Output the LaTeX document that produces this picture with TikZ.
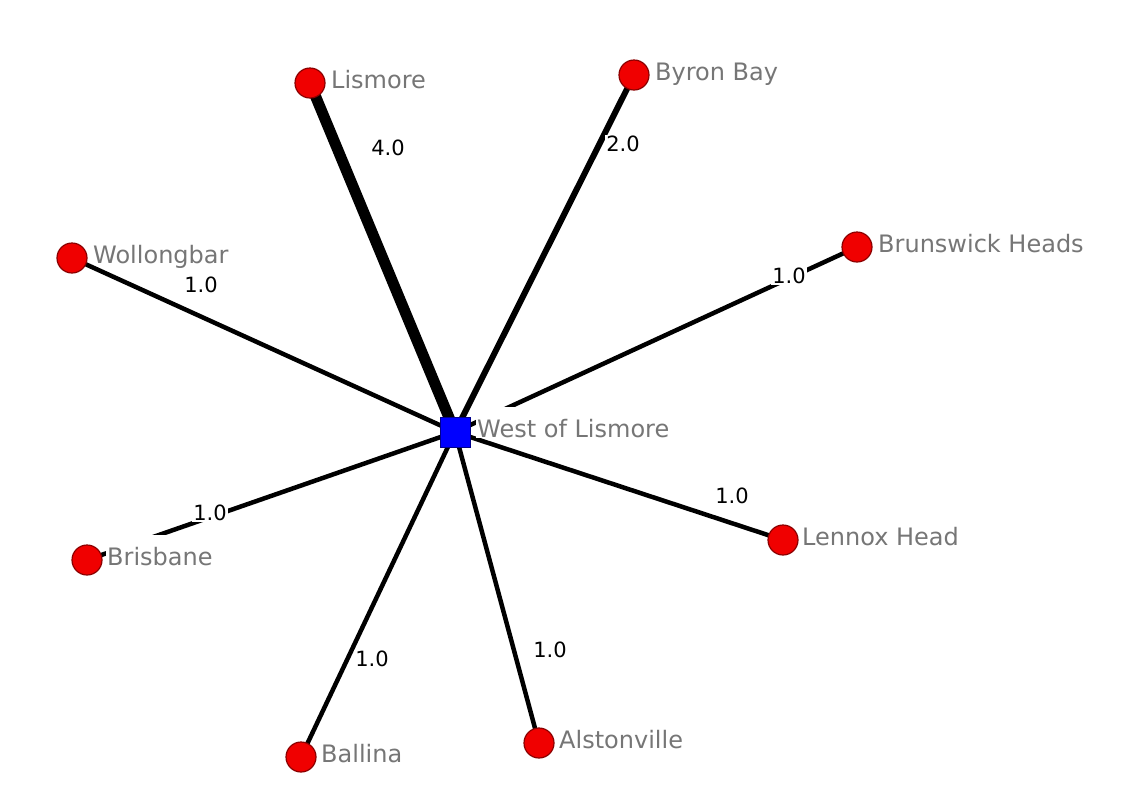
\documentclass[tikz,border=0pt]{standalone}
\usepackage{fontspec}
\setmainfont{DejaVu Sans}
\pgfdeclarelayer{bg}
\pgfsetlayers{bg,main}
\definecolor{nodered}{HTML}{F00000}
\definecolor{noderim}{HTML}{8B0000}
\definecolor{hubblue}{HTML}{0000FF}
\definecolor{hubrim}{HTML}{00008B}
\definecolor{labgray}{HTML}{767676}
\begin{document}
\begin{tikzpicture}[x=1pt,y={(0pt,-1pt)},
  town/.style={circle, fill=nodered, draw=noderim, line width=1.2pt, minimum size=30pt, inner sep=0pt},
  hub/.style={rectangle, fill=hubblue, draw=hubrim, line width=0.8pt, minimum size=30pt, inner sep=0pt},
  townlabel/.style={anchor=base west, fill=white, text=labgray, font=\fontsize{24}{28}\selectfont, inner xsep=1pt, inner ysep=0pt, text height=30pt, text depth=1pt},
  wlabel/.style={fill=white, text=black, font=\fontsize{21}{24}\selectfont, inner sep=1pt},
  link/.style={draw=black, line width=4.5pt},
]
\useasboundingbox (0,0) rectangle (1121,796);

% nodes
\node[hub]  (w)   at (455,432) {};
\node[town] (lis) at (310,83) {};
\node[town] (byr) at (634,75) {};
\node[town] (bru) at (857,247) {};
\node[town] (wol) at (72,258) {};
\node[town] (bri) at (87,560) {};
\node[town] (bal) at (301,757) {};
\node[town] (als) at (539,743) {};
\node[town] (len) at (783,540) {};

% connectors
\begin{pgfonlayer}{bg}
  \fill[white] (0,0) rectangle (1121,796);
  \draw[link, line width=11pt] (w.center) -- (lis.center);
  \draw[link, line width=6pt]  (w.center) -- (byr.center);
  \draw[link] (w.center) -- (bru.center);
  \draw[link] (w.center) -- (wol.center);
  \draw[link] (w.center) -- (bri.center);
  \draw[link] (w.center) -- (bal.center);
  \draw[link] (w.center) -- (als.center);
  \draw[link] (w.center) -- (len.center);
\end{pgfonlayer}

% weights
\node[wlabel] (wlis) at (388,148) {4.0};
\node[wlabel] (wbyr) at (623,144) {2.0};
\node[wlabel] (wbru) at (789,276) {1.0};
\node[wlabel] (wwol) at (201,285) {1.0};
\node[wlabel] (wbri) at (210,513) {1.0};
\node[wlabel] (wbal) at (372,659) {1.0};
\node[wlabel] (wals) at (550,650) {1.0};
\node[wlabel] (wlen) at (732,496) {1.0};

% names
\node[townlabel] (nw)   at (476,437) {West of Lismore};
\node[townlabel] (nlis) at (330,88) {Lismore};
\node[townlabel] (nbyr) at (654,80) {Byron Bay};
\node[townlabel] (nbru) at (877,252) {Brunswick Heads};
\node[townlabel] (nwol) at (92,263) {Wollongbar};
\node[townlabel] (nbri) at (106,565) {Brisbane};
\node[townlabel] (nbal) at (320,762) {Ballina};
\node[townlabel] (nals) at (558,748) {Alstonville};
\node[townlabel] (nlen) at (801,545) {Lennox Head};
\end{tikzpicture}
\end{document}
